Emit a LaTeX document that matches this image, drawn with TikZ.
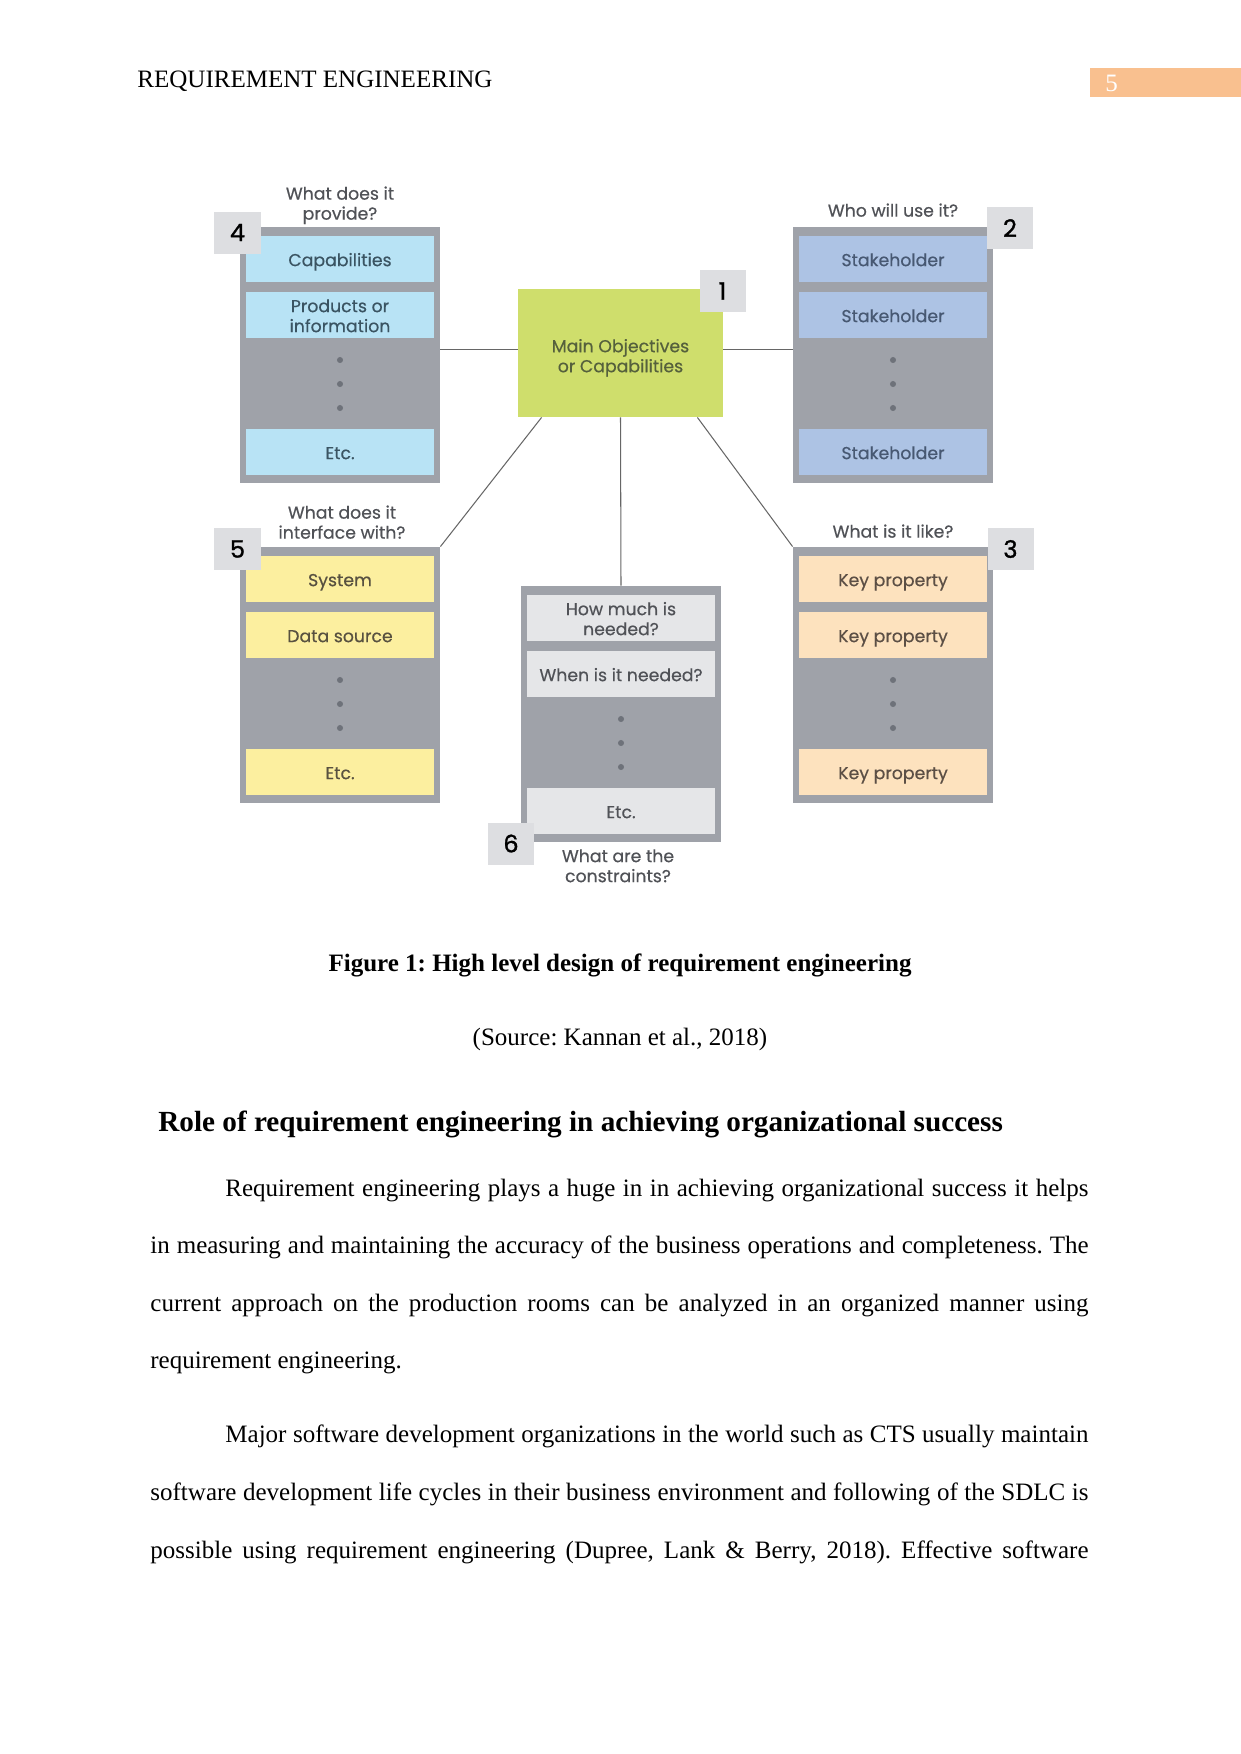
\documentclass[tikz,border=0pt]{standalone}
\usepackage{fontspec}
\setmainfont{Liberation Serif}
\newfontfamily\dgfont[FakeBold=0.45]{Poppins}
\newfontfamily\dgnum[FakeBold=1.2]{Poppins}
\usetikzlibrary{calc}
\definecolor{framegray}{HTML}{9FA2A9}
\definecolor{dotgray}{HTML}{6E727A}
\definecolor{badgegray}{HTML}{DDDEE1}
\definecolor{labelgray}{HTML}{505257}
\definecolor{linegray}{HTML}{666666}
\definecolor{cyancell}{HTML}{B8E3F5}
\definecolor{bluecell}{HTML}{ADC3E4}
\definecolor{yellowcell}{HTML}{FCEF9F}
\definecolor{peachcell}{HTML}{FDE2BE}
\definecolor{graycell}{HTML}{E5E6E8}
\definecolor{mainfill}{HTML}{CFDE6C}
\definecolor{maintext}{HTML}{55603C}
\definecolor{txtfour}{HTML}{3A5462}
\definecolor{txttwo}{HTML}{475872}
\definecolor{txtfive}{HTML}{585140}
\definecolor{txtthree}{HTML}{5C4F45}
\definecolor{txtsix}{HTML}{505257}
\definecolor{orangehdr}{HTML}{F9C08F}
\newcommand\ctext[2][-3.5pt]{\raisebox{#1}[0pt][0pt]{\begin{tabular}{@{}c@{}}#2\end{tabular}}}
\tikzset{
  framebox/.style={fill=framegray, draw=none, inner sep=0pt,
    minimum width=95.94pt, minimum height=122.56pt},
  cellbox/.style={draw=none, inner sep=0pt,
    minimum width=90.18pt, minimum height=22.07pt,
    font=\dgfont\fontsize{8.3}{9.6}\selectfont},
  badgebox/.style={fill=badgegray, draw=none, inner sep=0pt, text=black,
    minimum width=22.07pt, minimum height=20.15pt,
    font=\dgnum\fontsize{11.5}{12}\selectfont},
  qlabel/.style={inner sep=0pt, text=labelgray,
    font=\dgfont\fontsize{8.3}{9.6}\selectfont},
  dotnode/.style={circle, fill=dotgray, draw=none, inner sep=0pt, minimum size=2.9pt},
  link/.style={draw=linegray, line width=0.5pt},
  bodyline/.style={anchor=base west, inner sep=0pt, font=\fontsize{12}{14}\selectfont},
}
\newcommand\reqgroup[8]{%
  \node[framebox] (#1) at ({#2+100},{#3+127.75}) {};
  \node[cellbox, fill=#4, text=#5] (#1a) at ({#2+100},{#3+32}) {\ctext{#6}};
  \node[cellbox, fill=#4, text=#5] (#1b) at ({#2+100},{#3+88}) {\ctext{#7}};
  \node[dotnode] (#1da) at ({#2+100},{#3+133}) {};
  \node[dotnode] (#1db) at ({#2+100},{#3+157}) {};
  \node[dotnode] (#1dc) at ({#2+100},{#3+181}) {};
  \node[cellbox, fill=#4, text=#5] (#1c) at ({#2+100},{#3+225}) {\ctext{#8}};
}
\begin{document}
\frenchspacing
\begin{tikzpicture}[x=0.47968pt, y=-0.47968pt]
\useasboundingbox[fill=white] (0,0) rectangle (1241,1754);

% header
\node[bodyline] (hdr) at (137,87) {REQUIREMENT ENGINEERING};
\node[fill=orangehdr, draw=none, inner sep=0pt, anchor=north west,
  minimum width=72.43pt, minimum height=13.91pt] (pgbox) at (1090,68) {};
\node[bodyline, text=white] (pgnum) at (1105,91) {5};

% diagram groups
\reqgroup{gfour}{240}{227}{cyancell}{txtfour}{Capabilities}{Products or\\information}{Etc.}
\reqgroup{gtwo}{793}{227}{bluecell}{txttwo}{Stakeholder}{Stakeholder}{Stakeholder}
\reqgroup{gfive}{240}{547}{yellowcell}{txtfive}{System}{Data source}{Etc.}
\reqgroup{gthree}{793}{547}{peachcell}{txtthree}{Key property}{Key property}{Key property}
\reqgroup{gsix}{521}{586}{graycell}{txtsix}{How much is\\needed?}{When is it needed?}{Etc.}

% main box
\node[fill=mainfill, draw=none, inner sep=0pt, minimum width=98.33pt, minimum height=61.4pt,
  text=maintext, font=\dgfont\fontsize{8.3}{9.6}\selectfont] (main) at (620.5,353)
  {\ctext[-4.5pt]{Main Objectives\\or Capabilities}};

% connectors
\draw[link] ([yshift=1.9pt]main.west) -- ([yshift=1.9pt]main.west -| gfour.east);
\draw[link] ([yshift=1.9pt]main.east) -- ([yshift=1.9pt]main.east -| gtwo.west);
\draw[link] ($(main.south west)+(24,0)$) -- (gfive.north east);
\draw[link] ($(main.south east)+(-26,0)$) -- (gthree.north west);
\draw[link] (main.south) -- (gsix.north);

% badges
\node[badgebox] (bone) at (722.5,291) {1};
\node[badgebox] (btwo) at (1010,228) {2};
\node[badgebox] (bthree) at (1010.5,549) {3};
\node[badgebox] (bfour) at (237.5,232.5) {4};
\node[badgebox] (bfive) at (237.5,549) {5};
\node[badgebox] (bsix) at (511,843.5) {6};

% question labels
\node[qlabel] (qfour) at (340,202.5) {\ctext{What does it\\provide?}};
\node[qlabel] (qtwo) at (893,209.5) {\ctext{Who will use it?}};
\node[qlabel] (qfive) at (342,521.5) {\ctext{What does it\\interface with?}};
\node[qlabel] (qthree) at (893,530.5) {\ctext{What is it like?}};
\node[qlabel] (qsix) at (618,865) {\ctext{What are the\\constraints?}};

% caption
\node[anchor=base, inner sep=0pt, font=\bfseries\fontsize{12}{14}\selectfont] (cap) at (620,971)
  {Figure 1: High level design of requirement engineering};
\node[anchor=base, inner sep=0pt, font=\fontsize{12}{14}\selectfont] (src) at (620,1045)
  {(Source: Kannan et al., 2018)};

% heading
\node[anchor=base west, inner sep=0pt, font=\bfseries\fontsize{14}{16}\selectfont] (head) at (158,1131)
  {Role of requirement engineering in achieving organizational success};

% paragraph 1
\node[bodyline] (pa1) at (225,1196) {\makebox[414pt][s]{Requirement engineering plays a huge in in achieving organizational success it helps}};
\node[bodyline] (pa2) at (150,1253) {\makebox[450pt][s]{in measuring and maintaining the accuracy of the business operations and completeness. The}};
\node[bodyline] (pa3) at (150,1311) {\makebox[450pt][s]{current approach on the production rooms can be analyzed in an organized manner using}};
\node[bodyline] (pa4) at (150,1368) {requirement engineering.};

% paragraph 2
\node[bodyline] (pb1) at (225,1442) {\makebox[414pt][s]{Major software development organizations in the world such as CTS usually maintain}};
\node[bodyline] (pb2) at (150,1500) {\makebox[450pt][s]{software development life cycles in their business environment and following of the SDLC is}};
\node[bodyline] (pb3) at (150,1558) {\makebox[450pt][s]{possible using requirement engineering (Dupree, Lank \& Berry, 2018). Effective software}};
\end{tikzpicture}
\end{document}
